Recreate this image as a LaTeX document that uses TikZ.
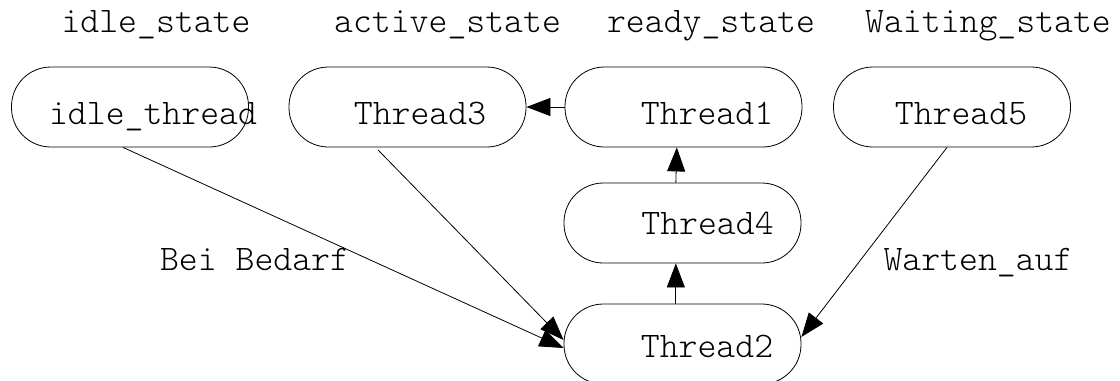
\documentclass[tikz,border=0pt]{standalone}
\usepackage{fontspec}
\usepackage{tikz}
\usepackage{xcolor}
\usetikzlibrary{arrows.meta}
\definecolor{inkline}{HTML}{000000}

\tikzset{
    threadbox/.style={draw=inkline, line width=0.6pt, rounded corners=29.5pt, minimum width=177.75pt, minimum height=60pt, inner sep=0pt},
    threadtext/.style={anchor=base, inner sep=0pt, font=\ttfamily\fontseries{l}\fontsize{27}{32}\selectfont},
    transition/.style={draw=inkline, line width=0.6pt, -{Triangle[length=18pt, width=13.5pt]}}
}

\begin{document}
\begin{tikzpicture}[x=0.75pt, y=-0.75pt]
                \useasboundingbox (0,0) rectangle (1120,380);

                \node[threadtext] (idlestate) at (156,32) {idle\_state};
                \node[threadtext] (activestate) at (447.5,32) {active\_state};
                \node[threadtext] (readystate) at (711,32) {ready\_state};
                \node[threadtext] (waitingstate) at (988,32) {Waiting\_state};

                \node[threadbox] (idle) at (130,107) {};
                \node[threadbox] (t3) at (407.5,107) {};
                \node[threadbox] (t1) at (683.5,107) {};
                \node[threadbox] (t5) at (952,107) {};
                \node[threadbox] (t4) at (682.5,223) {};
                \node[threadbox] (t2) at (682.5,344) {};

                \node[threadtext] (idletext) at (153,124) {idle\_thread};
                \node[threadtext] (t3text) at (420,124) {Thread3};
                \node[threadtext] (t1text) at (707,124) {Thread1};
                \node[threadtext] (t5text) at (961,124) {Thread5};
                \node[threadtext] (t4text) at (707.5,234) {Thread4};
                \node[threadtext] (t2text) at (707,357) {Thread2};

                \node[threadtext] (bedarf) at (254.5,270) {Bei Bedarf};
                \node[threadtext] (warten) at (978,270) {Warten\_auf};

                \draw[transition] (t1.west) -- (t3.east);
                \draw[transition] ([xshift=-5pt]t4.north) -- ([xshift=-5pt]t1.south);
                \draw[transition] ([xshift=-5pt]t2.north) -- ([xshift=-5pt]t4.south);
                \draw[transition] ([xshift=-5.25pt]idle.south) -- ([yshift=-3pt]t2.west);
                \draw[transition] ([xshift=-22pt, yshift=-2pt]t3.south) -- ([yshift=3pt]t2.west);
                \draw[transition] ([xshift=-3.75pt]t5.south) -- ([yshift=5.25pt]t2.east);
            \end{tikzpicture}
\end{document}
